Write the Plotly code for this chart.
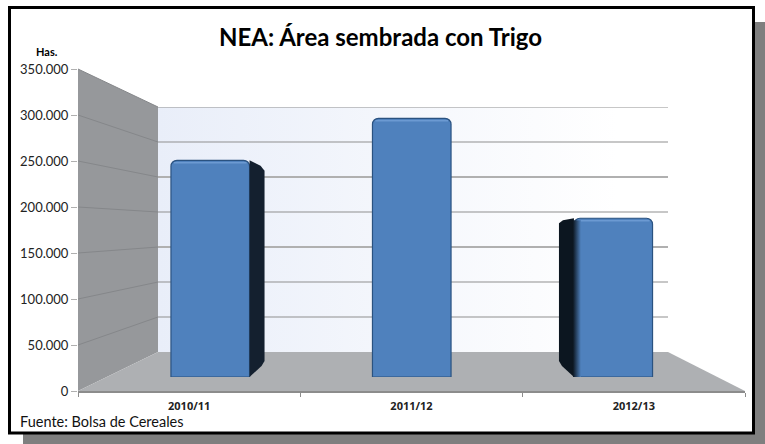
import plotly.graph_objects as go

categories = ["2010/11", "2011/12", "2012/13"]
area_has = [258000, 308000, 189000]
tick_values = [0, 50000, 100000, 150000, 200000, 250000, 300000, 350000]
tick_labels = ["0", "50.000", "100.000", "150.000", "200.000", "250.000", "300.000", "350.000"]

W, H = 765, 444
FX0, FX1, FY0, FY1 = 78, 745, 391, 69      # front plane
BX0, BX1, BY0, BY1 = 158, 668, 352, 107    # back wall
CX0, CX1, CY0, CY1 = 109.5, 714, 377, 83   # bar front plane
BAR_W = 0.39
DEPTH_X = 15 / 201.5
DEPTH_SCALE = 0.905
DEPTH_BASE = 16700
THICK_GRID = {150000, 250000}
PX_X = 1 / 201.5          # one pixel in bar-axis x units
PX_Y = 350000 / (CY0 - CY1)  # one pixel in bar-axis y units


def px(x):
    return x / W


def py(y):
    return 1 - y / H


def rect(x0, y0, x1, y1, color, line=None):
    return dict(type="rect", xref="paper", yref="paper", x0=px(x0), x1=px(x1), y0=py(y0), y1=py(y1),
                fillcolor=color, line=dict(width=0) if line is None else line, layer="below")


def poly(points, color):
    d = "M " + " L ".join(f"{px(a)},{py(b)}" for a, b in points) + " Z"
    return dict(type="path", xref="paper", yref="paper", path=d, fillcolor=color, line=dict(width=0), layer="below")


shapes = [
    rect(23, 22, 765, 444, "#7f7f7f"),
    rect(9.5, 7.5, 753.5, 433, "#ffffff", dict(color="#000000", width=3)),
    poly([(FX0, FY0), (FX0, FY1), (BX0, BY1), (BX0, BY0)], "#96989b"),
    poly([(FX0, FY0), (BX0, BY0), (BX1, BY0), (FX1, FY0)], "#aeb0b3"),
]
# slanted gridlines on the left wall, one per axis tick
for v in tick_values[1:]:
    f = v / tick_values[-1]
    shapes.append(dict(type="line", xref="paper", yref="paper", layer="below",
                       x0=px(FX0), x1=px(BX0),
                       y0=py(FY0 + (FY1 - FY0) * f), y1=py(BY0 + (BY1 - BY0) * f),
                       line=dict(color="#85878a", width=1)))

fig = go.Figure()

# front axes (labels)
fig.add_trace(go.Scatter(x=categories, y=[0, 0, 0], mode="markers", opacity=0, hoverinfo="skip", showlegend=False))

# back wall with gradient
fig.add_trace(go.Scatter(x=[0, 1, 1, 0, 0], y=[0, 0, 350000, 350000, 0], xaxis="x2", yaxis="y2", mode="lines",
                         line=dict(width=0), fill="toself", showlegend=False, hoverinfo="skip",
                         fillgradient=dict(type="horizontal", colorscale=[[0, "#e9eef9"], [0.9, "#ffffff"], [1, "#ffffff"]])))
# back wall gridlines
for v in tick_values[1:]:
    thick = v in THICK_GRID
    fig.add_trace(go.Scatter(x=[0, 1], y=[v, v], xaxis="x2", yaxis="y2", mode="lines", showlegend=False,
                             hoverinfo="skip",
                             line=dict(color="#b0b0b0" if thick else "#8f8f8f", width=2 if thick else 1)))

# side faces (drawn first as their own traces on the bar axes)
for i, v in enumerate(area_has):
    side = 1 - i
    if side == 0:
        continue
    xf = i + side * BAR_W / 2
    xb = xf + side * DEPTH_X
    top = DEPTH_BASE + v * DEPTH_SCALE
    drop = v - top
    fig.add_trace(go.Scatter(
        x=[xf, xb - side * 3 * PX_X, xb, xb, xb - side * 4 * PX_X, xb - side * 9 * PX_X, xf, xf],
        y=[0, DEPTH_BASE - 3 * PX_Y, DEPTH_BASE + 2 * PX_Y, v - drop - 4 * PX_Y,
           v - 0.6 * drop - 1.5 * PX_Y, v - 0.3 * drop - PX_Y, v, 0],
        xaxis="x3", yaxis="y3", mode="lines", line=dict(width=0), fill="toself",
        fillcolor="#14202f" if side > 0 else "#0c1620", showlegend=False, hoverinfo="skip"))

# bars
fig.add_trace(go.Bar(x=[0, 1, 2], y=area_has, xaxis="x3", yaxis="y3", width=BAR_W, showlegend=False,
                     marker=dict(color="#4f81bd", line=dict(color="#2a5280", width=1.2), cornerradius=6)))

# top highlight on each bar
for i, v in enumerate(area_has):
    fig.add_trace(go.Scatter(x=[i - BAR_W / 2 + 3 * PX_X, i + BAR_W / 2 - 3 * PX_X], y=[v - 2.5 * PX_Y] * 2,
                             xaxis="x3", yaxis="y3", mode="lines", showlegend=False, hoverinfo="skip",
                             line=dict(color="#6c9ad2", width=1.5)))

# soft shadow on the left edge of the last bar
x_left = 2 - BAR_W / 2
fig.add_trace(go.Scatter(x=[x_left - PX_X, x_left + 7 * PX_X, x_left + 7 * PX_X, x_left - PX_X, x_left - PX_X],
                         y=[0, 0, area_has[2] - 2 * PX_Y, area_has[2] - 2 * PX_Y, 0],
                         xaxis="x3", yaxis="y3", mode="lines", line=dict(width=0), fill="toself",
                         showlegend=False, hoverinfo="skip",
                         fillgradient=dict(type="horizontal", colorscale=[[0, "#0c1620"], [1, "#4f81bd"]])))

tickfont = dict(family="Lato", size=13, color="#222222")
fig.update_layout(
    template="none",
    width=W, height=H, margin=dict(l=0, r=0, t=0, b=0, pad=0),
    paper_bgcolor="#ffffff", plot_bgcolor="rgba(0,0,0,0)",
    shapes=shapes, showlegend=False,
    xaxis=dict(domain=[px(FX0), px(FX1)], type="category", categoryarray=categories, range=[-0.5, 2.5],
               tickson="boundaries", ticks="outside", ticklen=4, tickcolor="#8c8c8c", showgrid=False,
               showline=True, linecolor="#8c8c8c", linewidth=2, zeroline=False, automargin=False,
               ticklabelstandoff=4,
               tickfont=dict(family="Open Sans", size=11, color="#222222", weight="bold")),
    yaxis=dict(domain=[py(FY0), py(FY1)], range=[0, 350000], tickvals=tick_values, ticktext=tick_labels,
               ticks="outside", ticklen=6, tickcolor="#b0b0b0", showgrid=False, showline=False, zeroline=False,
               automargin=False, tickfont=tickfont),
    xaxis2=dict(domain=[px(BX0), px(BX1)], range=[0, 1], visible=False, automargin=False),
    yaxis2=dict(domain=[py(BY0), py(BY1)], range=[0, 350000], anchor="x2", visible=False, automargin=False),
    xaxis3=dict(domain=[px(CX0), px(CX1)], range=[-0.5, 2.5], visible=False, automargin=False),
    yaxis3=dict(domain=[py(CY0), py(CY1)], range=[0, 350000], anchor="x3", visible=False, automargin=False),
    annotations=[
        dict(text="NEA: Área sembrada con Trigo", x=px(380), y=py(36), xref="paper", yref="paper", showarrow=False,
             xanchor="center", yanchor="middle", font=dict(family="Lato", size=24, color="#000000", weight="bold")),
        dict(text="Has.", x=px(47), y=py(51), xref="paper", yref="paper", showarrow=False,
             xanchor="center", yanchor="middle", font=dict(family="Lato", size=11, color="#000000", weight="bold")),
        dict(text="Fuente: Bolsa de Cereales", x=px(18), y=py(421), xref="paper", yref="paper", xanchor="left",
             yanchor="middle", showarrow=False, font=dict(family="Lato", size=14.5, color="#111111")),
    ],
)
fig.write_html("out.html", config={"displayModeBar": False},
               post_script="document.body.style.margin='0';document.documentElement.style.overflow='hidden';")
